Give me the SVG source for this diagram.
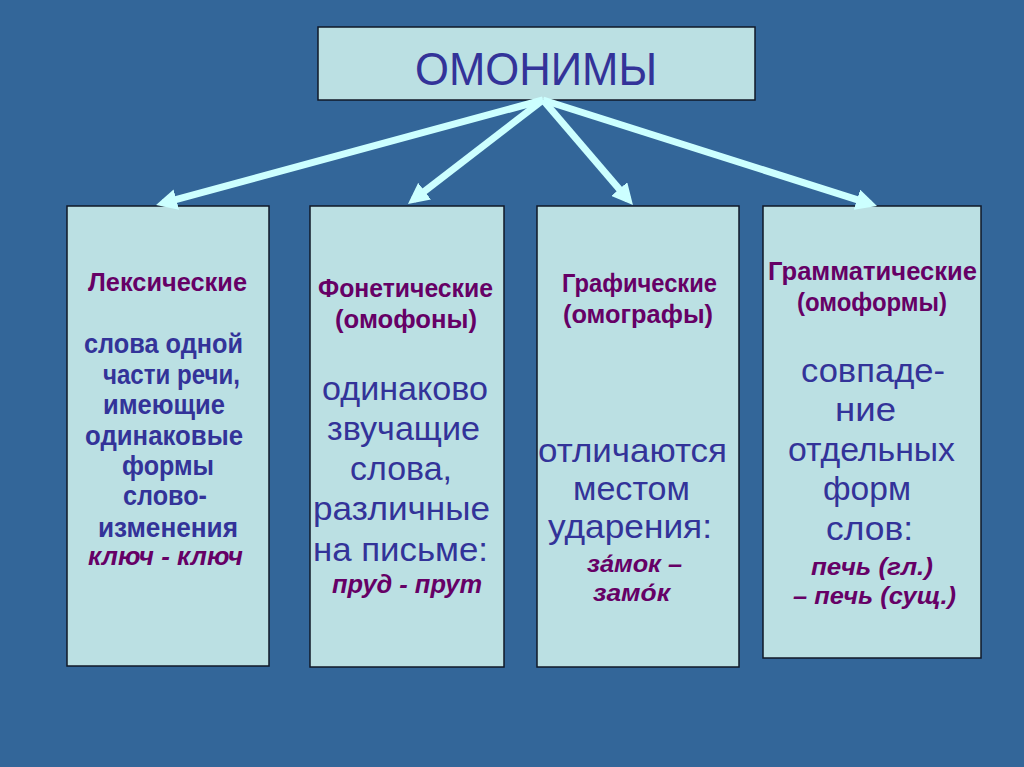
<svg xmlns="http://www.w3.org/2000/svg" width="1024" height="767" viewBox="0 0 1024 767">
<style>
.box{fill:#BBE0E3;stroke:#111827;stroke-width:1.5}
.t{font-family:"Liberation Sans",Arial,sans-serif}
.title{font-size:46px;fill:#333399}
.h{font-size:25px;font-weight:bold;fill:#660066}
.b{font-size:27px;font-weight:bold;fill:#333399}
.r{font-size:34px;fill:#333399}
.i{font-size:26px;font-weight:bold;font-style:italic;fill:#660066}
.i2{font-size:24px;font-weight:bold;font-style:italic;fill:#660066}
.arr{stroke:#CCFFFF;stroke-width:7;fill:none;marker-end:url(#ah)}
</style>
<defs>
<marker id="ah" viewBox="0 0 3 3" refX="2" refY="1.5" markerWidth="3" markerHeight="3" markerUnits="strokeWidth" orient="auto">
<path d="M0,0 L3,1.5 L0,3 z" fill="#CCFFFF"/>
</marker>
</defs>
<rect x="0" y="0" width="1024" height="767" fill="#336699"/>
<g id="root">
<rect class="box" x="318" y="27" width="437" height="73"/>
<text class="t title" x="415" y="85" textLength="242" lengthAdjust="spacingAndGlyphs">ОМОНИМЫ</text>
</g>
<g id="lexical">
<rect class="box" x="67" y="206" width="202" height="460"/>
<text class="t h" x="88" y="291" textLength="159" lengthAdjust="spacingAndGlyphs">Лексические</text>
<text class="t b" x="84" y="353" textLength="159" lengthAdjust="spacingAndGlyphs">слова одной</text>
<text class="t b" x="103" y="384" textLength="137" lengthAdjust="spacingAndGlyphs">части речи,</text>
<text class="t b" x="103" y="414" textLength="122" lengthAdjust="spacingAndGlyphs">имеющие</text>
<text class="t b" x="85" y="445" textLength="158" lengthAdjust="spacingAndGlyphs">одинаковые</text>
<text class="t b" x="122" y="475" textLength="92" lengthAdjust="spacingAndGlyphs">формы</text>
<text class="t b" x="123" y="505" textLength="84" lengthAdjust="spacingAndGlyphs">слово-</text>
<text class="t b" x="98" y="537" textLength="140" lengthAdjust="spacingAndGlyphs">изменения</text>
<text class="t i" x="88" y="565" textLength="155" lengthAdjust="spacingAndGlyphs">ключ - ключ</text>
</g>
<g id="phonetic">
<rect class="box" x="310" y="206" width="194" height="461"/>
<text class="t h" x="318" y="297" textLength="175" lengthAdjust="spacingAndGlyphs">Фонетические</text>
<text class="t h" x="335" y="328" textLength="142" lengthAdjust="spacingAndGlyphs">(омофоны)</text>
<text class="t r" x="322" y="400" textLength="166" lengthAdjust="spacingAndGlyphs">одинаково</text>
<text class="t r" x="327" y="440" textLength="153" lengthAdjust="spacingAndGlyphs">звучащие</text>
<text class="t r" x="350" y="480" textLength="102" lengthAdjust="spacingAndGlyphs">слова,</text>
<text class="t r" x="313" y="520" textLength="177" lengthAdjust="spacingAndGlyphs">различные</text>
<text class="t r" x="313" y="561" textLength="175" lengthAdjust="spacingAndGlyphs">на письме:</text>
<text class="t i" x="332" y="593" textLength="150" lengthAdjust="spacingAndGlyphs">пруд - прут</text>
</g>
<g id="graphic">
<rect class="box" x="537" y="206" width="202" height="461"/>
<text class="t h" x="562" y="292" textLength="155" lengthAdjust="spacingAndGlyphs">Графические</text>
<text class="t h" x="563" y="323" textLength="150" lengthAdjust="spacingAndGlyphs">(омографы)</text>
<text class="t r" x="538" y="462" textLength="189" lengthAdjust="spacingAndGlyphs">отличаются</text>
<text class="t r" x="573" y="500" textLength="117" lengthAdjust="spacingAndGlyphs">местом</text>
<text class="t r" x="548" y="538" textLength="164" lengthAdjust="spacingAndGlyphs">ударения:</text>
<text class="t i2" x="587" y="572" textLength="95" lengthAdjust="spacingAndGlyphs">за́мок –</text>
<text class="t i2" x="593" y="601" textLength="77" lengthAdjust="spacingAndGlyphs">замо́к</text>
</g>
<g id="grammatical">
<rect class="box" x="763" y="206" width="218" height="452"/>
<text class="t h" x="768" y="280" textLength="209" lengthAdjust="spacingAndGlyphs">Грамматические</text>
<text class="t h" x="797" y="311" textLength="150" lengthAdjust="spacingAndGlyphs">(омоформы)</text>
<text class="t r" x="801" y="382" textLength="144" lengthAdjust="spacingAndGlyphs">совпаде-</text>
<text class="t r" x="835" y="421" textLength="61" lengthAdjust="spacingAndGlyphs">ние</text>
<text class="t r" x="788" y="461" textLength="167" lengthAdjust="spacingAndGlyphs">отдельных</text>
<text class="t r" x="823" y="500" textLength="88" lengthAdjust="spacingAndGlyphs">форм</text>
<text class="t r" x="826" y="540" textLength="87" lengthAdjust="spacingAndGlyphs">слов:</text>
<text class="t i2" x="811" y="575" textLength="122" lengthAdjust="spacingAndGlyphs">печь (гл.)</text>
<text class="t i2" x="793" y="604" textLength="163" lengthAdjust="spacingAndGlyphs">– печь (сущ.)</text>
</g>
<g id="connectors">
<line class="arr" x1="543" y1="100" x2="162.8" y2="203.2"/>
<line class="arr" x1="543" y1="100" x2="413.5" y2="199.7"/>
<line class="arr" x1="543" y1="100" x2="628.4" y2="199.7"/>
<line class="arr" x1="543" y1="100" x2="870.3" y2="203.9"/>
</g>
</svg>
